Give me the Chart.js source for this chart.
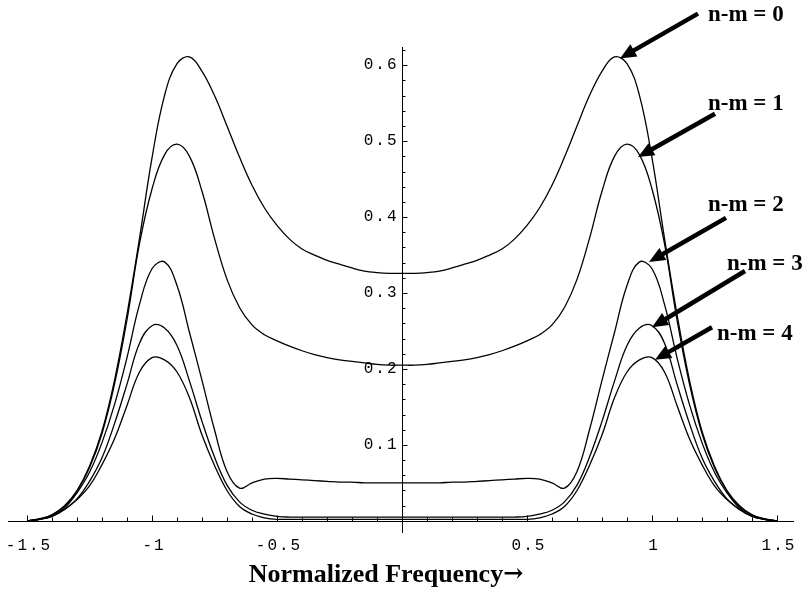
<!DOCTYPE html>
<html>
<head>
<meta charset="utf-8">
<script src="https://cdn.jsdelivr.net/npm/chart.js@4.4.0/dist/chart.umd.min.js"></script>
<style>
  body { margin: 0; background: #fff; }
  canvas { display: block; }
</style>
</head>
<body>
<canvas id="graf" width="808" height="594"></canvas>
<script>
let freq = [-1.5, -1.45, -1.4, -1.35, -1.3, -1.25, -1.2, -1.15, -1.1, -1.05, -1.0, -0.95, -0.9, -0.85, -0.8, -0.75, -0.7, -0.65, -0.6, -0.55, -0.5, -0.45, -0.4, -0.35, -0.3, -0.25, -0.2, -0.15, -0.1, -0.05,
    0, 0.05, 0.1, 0.15, 0.2, 0.25, 0.3, 0.35, 0.4, 0.45, 0.5, 0.55, 0.6, 0.65, 0.7, 0.75, 0.8, 0.85, 0.9, 0.95, 1.0, 1.05, 1.1, 1.15, 1.2, 1.25, 1.3, 1.35, 1.4, 1.45, 1.5];

let nm0 = [0.000, 0.003, 0.008, 0.020, 0.040, 0.072, 0.118, 0.185, 0.272, 0.372, 0.478, 0.560, 0.602, 0.611, 0.592, 0.560, 0.520, 0.479, 0.442, 0.412, 0.389, 0.371, 0.358, 0.350, 0.343, 0.338, 0.333, 0.329, 0.327, 0.326,
    0.326, 0.326, 0.327, 0.329, 0.333, 0.338, 0.343, 0.350, 0.358, 0.371, 0.389, 0.412, 0.442, 0.479, 0.520, 0.560, 0.592, 0.611, 0.602, 0.560, 0.478, 0.372, 0.272, 0.185, 0.118, 0.072, 0.040, 0.020, 0.008, 0.003, 0.000];
let nm1 = [0.000, 0.002, 0.008, 0.019, 0.039, 0.070, 0.115, 0.180, 0.265, 0.365, 0.437, 0.482, 0.496, 0.480, 0.434, 0.372, 0.318, 0.281, 0.258, 0.245, 0.237, 0.230, 0.224, 0.219, 0.215, 0.212, 0.210, 0.208, 0.206, 0.205,
    0.205, 0.205, 0.206, 0.208, 0.210, 0.212, 0.215, 0.219, 0.224, 0.230, 0.237, 0.245, 0.258, 0.281, 0.318, 0.372, 0.434, 0.480, 0.496, 0.482, 0.437, 0.365, 0.265, 0.180, 0.115, 0.070, 0.039, 0.019, 0.008, 0.002, 0.000];
let nm2 = [0.000, 0.002, 0.007, 0.017, 0.037, 0.064, 0.103, 0.153, 0.215, 0.285, 0.332, 0.341, 0.310, 0.248, 0.185, 0.120, 0.065, 0.043, 0.050, 0.055, 0.056, 0.055, 0.054, 0.053, 0.052, 0.051, 0.051, 0.050, 0.050, 0.050,
    0.050, 0.050, 0.050, 0.050, 0.051, 0.051, 0.052, 0.053, 0.054, 0.055, 0.056, 0.055, 0.050, 0.043, 0.065, 0.120, 0.185, 0.248, 0.310, 0.341, 0.332, 0.285, 0.215, 0.153, 0.103, 0.064, 0.037, 0.017, 0.007, 0.002, 0.000];
let nm3 = [0.000, 0.002, 0.006, 0.015, 0.029, 0.052, 0.083, 0.128, 0.180, 0.234, 0.257, 0.254, 0.231, 0.184, 0.131, 0.084, 0.047, 0.025, 0.014, 0.009, 0.006, 0.005, 0.005, 0.005, 0.005, 0.005, 0.005, 0.005, 0.005, 0.005,
    0.005, 0.005, 0.005, 0.005, 0.005, 0.005, 0.005, 0.005, 0.005, 0.005, 0.006, 0.009, 0.014, 0.025, 0.047, 0.084, 0.131, 0.184, 0.231, 0.254, 0.257, 0.234, 0.180, 0.128, 0.083, 0.052, 0.029, 0.015, 0.006, 0.002, 0.000];
let nm4 = [0.000, 0.002, 0.006, 0.015, 0.028, 0.046, 0.074, 0.108, 0.152, 0.196, 0.215, 0.212, 0.196, 0.162, 0.113, 0.073, 0.040, 0.019, 0.009, 0.004, 0.002, 0.002, 0.002, 0.002, 0.002, 0.002, 0.002, 0.002, 0.002, 0.002,
    0.002, 0.002, 0.002, 0.002, 0.002, 0.002, 0.002, 0.002, 0.002, 0.002, 0.002, 0.004, 0.009, 0.019, 0.040, 0.073, 0.113, 0.162, 0.196, 0.212, 0.215, 0.196, 0.152, 0.108, 0.074, 0.046, 0.028, 0.015, 0.006, 0.002, 0.000];

let xTicks = [-1.5, -1, -0.5, 0.5, 1, 1.5];
let xTickText = ["-1.5", "-1", "-0.5", "0.5", "1", "1.5"];
let yTicks = [0.1, 0.2, 0.3, 0.4, 0.5, 0.6];
let yTickText = ["0.1", "0.2", "0.3", "0.4", "0.5", "0.6"];

// labels + arrows (data units): label left/middle, arrow tail, arrow tip
let labelText = ["n-m = 0", "n-m = 1", "n-m = 2", "n-m = 3", "n-m = 4"];
let labelPos = [[1.224, 0.666], [1.224, 0.549], [1.224, 0.416], [1.300, 0.338], [1.260, 0.246]];
let arrowTail = [[1.184, 0.668], [1.252, 0.536], [1.296, 0.399], [1.372, 0.329], [1.240, 0.255]];
let arrowTip = [[0.872, 0.609], [0.944, 0.479], [0.988, 0.341], [1.000, 0.255], [1.012, 0.212]];

let curves = [nm0, nm1, nm2, nm3, nm4];

function toPoints(vals) {
    return freq.map((f, i) => ({ x: f, y: vals[i] }));
}

let mathAxes = {
    id: "mathAxes",
    afterDatasetsDraw(chart) {
        const ctx = chart.ctx;
        const sx = chart.scales.x;
        const sy = chart.scales.y;
        const area = chart.chartArea;
        const x0 = Math.round(sx.getPixelForValue(0)) + 0.5;
        const y0 = Math.round(sy.getPixelForValue(0)) + 0.5;
        ctx.save();
        ctx.strokeStyle = "#000";
        ctx.lineWidth = 1;
        ctx.beginPath();
        ctx.moveTo(area.left, y0);
        ctx.lineTo(area.right, y0);
        ctx.moveTo(x0, area.top);
        ctx.lineTo(x0, area.bottom);
        // x ticks every 0.1, longer every 0.5
        for (let k = -15; k <= 15; k++) {
            if (k === 0) continue;
            const px = Math.round(sx.getPixelForValue(k / 10)) + 0.5;
            const len = (k % 5 === 0) ? 6 : 4;
            ctx.moveTo(px, y0);
            ctx.lineTo(px, y0 - len);
        }
        // y ticks every 0.02, longer every 0.1
        for (let k = 1; k <= 31; k++) {
            const py = Math.round(sy.getPixelForValue(k * 0.02)) + 0.5;
            const len = (k % 5 === 0) ? 5 : 3;
            ctx.moveTo(x0, py);
            ctx.lineTo(x0 + len, py);
        }
        ctx.stroke();

        ctx.fillStyle = "#000";
        ctx.font = "16px 'Liberation Mono'";
        ctx.letterSpacing = "2px";
        ctx.textBaseline = "middle";
        ctx.textAlign = "center";
        xTicks.forEach((v, i) => {
            ctx.fillText(xTickText[i], sx.getPixelForValue(v) + 2, y0 + 24);
        });
        ctx.textAlign = "right";
        yTicks.forEach((v, i) => {
            ctx.fillText(yTickText[i], x0 - 4, sy.getPixelForValue(v));
        });
        ctx.letterSpacing = "0px";

        // axis title, arrow glyph from a font where it is full width
        const title = "Normalized Frequency";
        const fTitle = "bold 26px 'Liberation Serif'";
        const fArrow = "bold 24px 'DejaVu Serif'";
        ctx.font = fTitle;
        const w1 = ctx.measureText(title).width;
        ctx.font = fArrow;
        const w2 = ctx.measureText("\u2192").width;
        const left = 386 - (w1 + w2) / 2;
        ctx.textAlign = "left";
        ctx.font = fTitle;
        ctx.fillText(title, left, y0 + 54);
        ctx.font = fArrow;
        ctx.fillText("\u2192", left + w1, y0 + 53);

        // labels and arrows
        ctx.font = "bold 23px 'Liberation Serif'";
        ctx.textAlign = "left";
        labelText.forEach((t, i) => {
            ctx.fillText(t, sx.getPixelForValue(labelPos[i][0]), sy.getPixelForValue(labelPos[i][1]));
            const ax = sx.getPixelForValue(arrowTail[i][0]);
            const ay = sy.getPixelForValue(arrowTail[i][1]);
            const bx = sx.getPixelForValue(arrowTip[i][0]);
            const by = sy.getPixelForValue(arrowTip[i][1]);
            const ang = Math.atan2(by - ay, bx - ax);
            const head = 16;
            const hw = 7;
            const cx = bx - head * Math.cos(ang);
            const cy = by - head * Math.sin(ang);
            ctx.lineWidth = 4.5;
            ctx.beginPath();
            ctx.moveTo(ax, ay);
            ctx.lineTo(cx + 2 * Math.cos(ang), cy + 2 * Math.sin(ang));
            ctx.stroke();
            ctx.beginPath();
            ctx.moveTo(bx, by);
            ctx.lineTo(cx - hw * Math.sin(ang), cy + hw * Math.cos(ang));
            ctx.lineTo(cx + hw * Math.sin(ang), cy - hw * Math.cos(ang));
            ctx.closePath();
            ctx.fill();
        });
        ctx.restore();
    }
};

let graf = new Chart(document.getElementById("graf"), {
    type: "line",
    data: {
        datasets: curves.map((c, i) => ({
            label: labelText[i],
            data: toPoints(c),
            borderColor: "#000",
            borderWidth: 1.3,
            pointRadius: 0,
            fill: false,
            tension: 0.4
        }))
    },
    options: {
        responsive: false,
        animation: false,
        layout: {
            padding: { left: 8, right: 14, top: 47, bottom: 61 }
        },
        plugins: {
            legend: { display: false },
            tooltip: { enabled: false }
        },
        scales: {
            x: { type: "linear", min: -1.576, max: 1.568, display: false },
            y: { min: -0.016, max: 0.624, display: false }
        }
    },
    plugins: [mathAxes]
});
</script>
</body>
</html>
